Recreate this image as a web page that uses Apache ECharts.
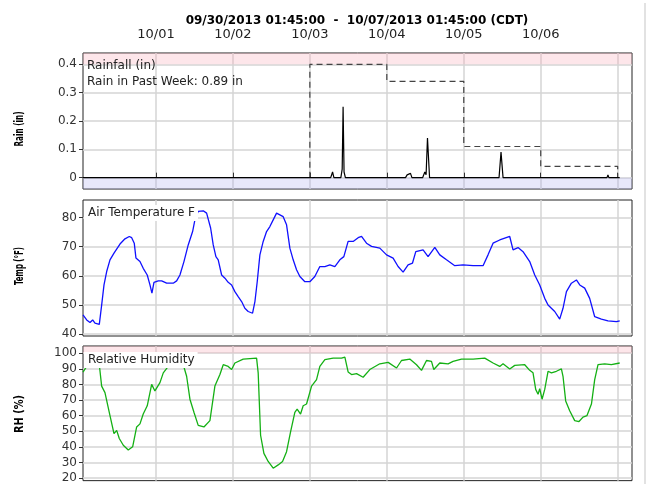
<!DOCTYPE html>
<html><head><meta charset="utf-8">
<script src="https://cdn.jsdelivr.net/npm/echarts@6/dist/echarts.min.js"></script>
<style>html,body{margin:0;padding:0;background:#fff}#c{width:648px;height:484px}</style>
</head><body><div id="c"></div>
<script>
// ---------- data ----------
const titleText = '09/30/2013 01:45:00  -  10/07/2013 01:45:00 (CDT)';
const dayTicks = ['2013-10-01 00:00','2013-10-02 00:00','2013-10-03 00:00','2013-10-04 00:00','2013-10-05 00:00','2013-10-06 00:00','2013-10-07 00:00'];
const dayLabels = ['2013-10-01 00:00','2013-10-02 00:00','2013-10-03 00:00','2013-10-04 00:00','2013-10-05 00:00','2013-10-06 00:00'];
const rainTicks = [0, 0.1, 0.2, 0.3, 0.4];
const tempTicks = [40, 50, 60, 70, 80];
const rhTicks = [20, 30, 40, 50, 60, 70, 80, 90, 100];

const rainTimes = ['2013-09-30 01:15','2013-10-03 06:30','2013-10-03 07:05','2013-10-03 07:30','2013-10-03 09:40','2013-10-03 10:05','2013-10-03 10:22','2013-10-03 10:40','2013-10-03 11:05',
  '2013-10-04 05:50','2013-10-04 06:20','2013-10-04 06:50','2013-10-04 07:23','2013-10-04 07:50','2013-10-04 11:10','2013-10-04 11:51','2013-10-04 12:15','2013-10-04 12:41','2013-10-04 13:20',
  '2013-10-05 11:00','2013-10-05 11:37','2013-10-05 12:15',
  '2013-10-06 17:10','2013-10-06 17:40','2013-10-06 18:10','2013-10-06 20:40','2013-10-06 20:58','2013-10-06 21:15','2013-10-07 00:38'];
const rainValues = [0,0,0.02,0,0,0.03,0.25,0.02,0,
  0,0.01,0.005,0.015,0,0,0.02,0.01,0.14,0,
  0,0.09,0,
  0,0.006,0,0,0.01,0,0];

const dailyTimes = ['2013-10-03 00:00','2013-10-03 00:00','2013-10-04 00:00','2013-10-05 00:00','2013-10-06 00:00','2013-10-07 00:00'];
const dailyTotals = [0, 0.40, 0.34, 0.11, 0.04, 0];

const tempTimes = [
'2013-09-30 01:15','2013-09-30 02:24','2013-09-30 03:26','2013-09-30 04:16','2013-09-30 04:59','2013-09-30 06:20','2013-09-30 07:04','2013-09-30 07:48','2013-09-30 08:38','2013-09-30 09:40','2013-09-30 10:55','2013-09-30 12:47','2013-09-30 14:20','2013-09-30 15:41','2013-09-30 16:26','2013-09-30 17:14','2013-09-30 17:46','2013-09-30 19:01','2013-09-30 20:02','2013-09-30 21:17','2013-09-30 22:08','2013-09-30 22:45','2013-09-30 23:23',
'2013-10-01 00:43','2013-10-01 01:47','2013-10-01 03:20','2013-10-01 05:23','2013-10-01 06:27','2013-10-01 07:29','2013-10-01 08:44','2013-10-01 10:04','2013-10-01 11:26','2013-10-01 12:09','2013-10-01 13:11','2013-10-01 14:45','2013-10-01 15:48','2013-10-01 17:03','2013-10-01 17:52','2013-10-01 18:42','2013-10-01 19:25','2013-10-01 20:29','2013-10-01 21:31','2013-10-01 22:32','2013-10-01 23:36',
'2013-10-02 00:37','2013-10-02 01:39','2013-10-02 02:43','2013-10-02 03:44','2013-10-02 04:46','2013-10-02 06:08','2013-10-02 06:52','2013-10-02 07:35','2013-10-02 08:25','2013-10-02 09:27','2013-10-02 10:30','2013-10-02 11:32','2013-10-02 12:34','2013-10-02 13:37','2013-10-02 14:39','2013-10-02 15:41','2013-10-02 16:44','2013-10-02 17:46','2013-10-02 18:48','2013-10-02 19:51','2013-10-02 20:53','2013-10-02 22:27',
'2013-10-03 00:00','2013-10-03 01:33','2013-10-03 03:07','2013-10-03 04:41','2013-10-03 06:14','2013-10-03 07:48','2013-10-03 09:21','2013-10-03 10:36','2013-10-03 11:56','2013-10-03 13:30','2013-10-03 15:04','2013-10-03 16:07','2013-10-03 17:40','2013-10-03 19:14','2013-10-03 21:49','2013-10-03 23:55',
'2013-10-04 01:58','2013-10-04 03:31','2013-10-04 05:05','2013-10-04 06:38','2013-10-04 08:01','2013-10-04 09:02','2013-10-04 11:19','2013-10-04 12:52','2013-10-04 14:58','2013-10-04 16:31','2013-10-04 18:37','2013-10-04 21:12','2013-10-04 23:47',
'2013-10-05 02:54','2013-10-05 06:01','2013-10-05 07:34','2013-10-05 09:08','2013-10-05 11:13','2013-10-05 12:47','2013-10-05 14:20','2013-10-05 15:22','2013-10-05 16:56','2013-10-05 18:29','2013-10-05 20:34','2013-10-05 22:08','2013-10-05 23:41',
'2013-10-06 01:15','2013-10-06 02:17','2013-10-06 04:22','2013-10-06 05:55','2013-10-06 06:57','2013-10-06 08:01','2013-10-06 09:34','2013-10-06 11:08','2013-10-06 12:10','2013-10-06 13:43','2013-10-06 15:16','2013-10-06 16:50','2013-10-06 18:55','2013-10-06 20:59','2013-10-06 23:36',
'2013-10-07 00:38'];
const tempValues = [
46.6,44.9,44.0,44.9,43.8,43.4,50.0,56.9,61.5,65.5,67.8,70.9,72.7,73.5,73.1,71.2,66.1,64.9,62.6,60.3,56.9,54.1,57.8,
58.3,58.3,57.5,57.5,58.3,60.3,64.9,70.6,75.2,79.2,82.1,82.3,81.5,76.4,70.6,66.6,65.5,60.3,59.2,57.8,56.9,
54.6,52.9,51.2,48.9,47.8,47.2,51.2,58.0,67.2,71.8,75.2,76.9,79.2,81.5,80.9,80.3,77.5,69.5,65.5,62.1,59.8,58.0,
58.0,59.8,63.2,63.2,63.8,63.2,65.5,66.6,71.8,71.8,73.1,73.5,71.2,70.1,69.5,67.2,
66.1,63.2,61.3,63.8,64.4,68.3,68.9,66.6,69.8,67.2,65.5,63.5,63.8,
63.5,63.5,67.2,71.2,72.3,72.9,73.5,68.9,69.7,68.3,64.9,60.3,56.9,
52.3,50.0,47.8,45.2,48.9,54.6,57.5,58.6,56.9,55.8,52.3,46.0,45.2,44.6,44.3,
44.6];

const rhTimes = [
'2013-09-30 01:15','2013-09-30 02:24','2013-09-30 04:28','2013-09-30 06:20','2013-09-30 07:04','2013-09-30 08:06','2013-09-30 09:40','2013-09-30 10:55','2013-09-30 11:45','2013-09-30 12:34','2013-09-30 13:49','2013-09-30 15:22','2013-09-30 16:44','2013-09-30 17:59','2013-09-30 19:01','2013-09-30 20:02','2013-09-30 21:17','2013-09-30 22:40','2013-09-30 23:41',
'2013-10-01 01:15','2013-10-01 02:17','2013-10-01 03:50','2013-10-01 06:27','2013-10-01 08:31','2013-10-01 09:34','2013-10-01 10:36','2013-10-01 11:51','2013-10-01 13:11','2013-10-01 14:58','2013-10-01 16:50','2013-10-01 18:23','2013-10-01 19:57','2013-10-01 20:59','2013-10-01 22:32','2013-10-01 23:36',
'2013-10-02 00:37','2013-10-02 03:13','2013-10-02 07:23','2013-10-02 07:53','2013-10-02 08:38','2013-10-02 09:40','2013-10-02 11:00','2013-10-02 12:34','2013-10-02 14:07','2013-10-02 15:29','2013-10-02 16:44','2013-10-02 17:59','2013-10-02 19:19','2013-10-02 20:02','2013-10-02 21:06','2013-10-02 21:55','2013-10-02 22:58',
'2013-10-03 00:32','2013-10-03 02:05','2013-10-03 03:07','2013-10-03 04:41','2013-10-03 07:16','2013-10-03 09:53','2013-10-03 10:55','2013-10-03 11:56','2013-10-03 13:00','2013-10-03 14:34','2013-10-03 16:37','2013-10-03 18:42','2013-10-03 21:49',
'2013-10-04 00:25','2013-10-04 03:02','2013-10-04 04:35','2013-10-04 07:10','2013-10-04 09:16','2013-10-04 10:49','2013-10-04 12:23','2013-10-04 13:56','2013-10-04 14:39','2013-10-04 16:31','2013-10-04 19:07','2013-10-04 20:40','2013-10-04 23:17',
'2013-10-05 02:54','2013-10-05 06:33','2013-10-05 09:08','2013-10-05 11:13','2013-10-05 12:15','2013-10-05 14:20','2013-10-05 15:54','2013-10-05 19:01','2013-10-05 20:34','2013-10-05 21:36','2013-10-05 22:26','2013-10-05 23:10','2013-10-05 23:41',
'2013-10-06 00:25','2013-10-06 01:15','2013-10-06 02:17','2013-10-06 03:20','2013-10-06 04:53','2013-10-06 06:27','2013-10-06 06:57','2013-10-06 07:47','2013-10-06 09:02','2013-10-06 10:36','2013-10-06 11:56','2013-10-06 13:11','2013-10-06 14:26','2013-10-06 15:49','2013-10-06 16:50','2013-10-06 17:52','2013-10-06 19:57','2013-10-06 22:02',
'2013-10-07 00:38'];
const rhValues = [
87.8,91.5,92.6,92.6,78.9,74.7,60.0,48.4,50.5,45.3,41.0,37.9,40.0,52.7,54.7,61.0,66.3,80.0,75.8,
81.1,87.4,91.5,93.7,92.6,85.2,70.5,62.1,53.7,52.7,56.8,78.9,86.3,92.6,91.5,89.5,
93.7,96.2,96.8,87.4,47.4,35.8,30.6,26.3,28.4,30.6,36.9,49.5,62.1,64.2,61.0,66.3,67.4,
78.9,83.1,91.5,95.8,96.8,96.8,97.5,88.0,86.3,86.9,84.6,89.5,93.2,
94.1,90.5,95.3,96.2,92.6,89.0,95.3,94.7,89.5,93.7,93.2,94.7,96.2,
96.2,96.8,93.7,91.5,93.2,89.9,92.2,92.6,89.0,87.4,76.8,73.7,77.3,
70.5,76.8,88.4,87.4,88.4,89.9,85.2,69.4,63.1,56.8,56.2,59.0,60.0,67.4,83.1,92.6,93.2,92.6,
93.7];

// ---------- helpers ----------
function ts(s){ const p=s.split(' '); const d=p[0].split('-').map(Number); const t=p[1].split(':').map(Number); return new Date(d[0],d[1]-1,d[2],t[0],t[1]).getTime(); }
function zip(times, vals){ return times.map((t,i)=>[ts(t), vals[i]]); }
const pad = n => (n<10?'0':'')+n;
const XMIN = ts('2013-09-30 01:15'), XMAX = ts('2013-10-07 04:28');
const FONT = 'DejaVu Sans';

const GL = 83, GW = 549;
const grids = [
  {left:GL, top:53, width:GW, height:136},
  {left:GL, top:200, width:GW, height:136},
  {left:GL, top:346, width:GW, height:137}
].map(g => Object.assign(g, {show:true, borderColor:'#222', borderWidth:1, backgroundColor:'#fff'}));

function xAx(i){
  return {type:'value', gridIndex:i, min:XMIN, max:XMAX, position:'top', offset:5,
    axisLine:{show:false},
    axisTick:{show:i===0, customValues:dayTicks.map(ts), length:5, lineStyle:{color:'#333', width:1}},
    axisLabel:{show:i===0, customValues:dayLabels.map(ts), fontSize:13, fontFamily:FONT, color:'#222', margin:7,
      formatter:v=>{const d=new Date(v); return pad(d.getMonth()+1)+'/'+pad(d.getDate());}},
    splitLine:{show:true, lineStyle:{color:'#d4d4d4', width:1.5}}
  };
}
function yAx(i, min, max, ticks){
  return {type:'value', gridIndex:i, min:min, max:max,
    axisLine:{show:false},
    axisTick:{show:true, customValues:ticks, length:4, lineStyle:{color:'#333'}},
    axisLabel:{customValues:ticks, fontSize:12, fontFamily:FONT, color:'#333', margin:6, formatter:v=>String(v)},
    splitLine:{show:true, lineStyle:{color:'#d4d4d4', width:1.5}}
  };
}

// measure for condensed axis names
const ctx = document.createElement('canvas').getContext('2d');
const nameFont = 'bold 12px "DejaVu Sans"';
ctx.font = nameFont;
function axName(text, cx, cy, len){
  const w = ctx.measureText(text).width;
  return {type:'text', x:cx, y:cy, rotation:Math.PI/2, scaleX:len/w, z:100,
    style:{text:text, x:0, y:0, align:'center', verticalAlign:'middle', font:nameFont, fill:'#000'}};
}
function panelLabel(text, x, y, bg){
  return {type:'text', x:x, y:y, z:100,
    style:{text:text, align:'left', verticalAlign:'middle', font:'12px "DejaVu Sans"', fill:'#222',
      backgroundColor:bg||'transparent', padding:bg?[2,3,2,4]:0}};
}

const pinkArea = 'rgba(248,172,185,0.3)';
const blueArea = 'rgba(178,178,238,0.3)';

const option = {
  animation:false,
  backgroundColor:'#fff',
  grid: grids,
  xAxis: [xAx(0), xAx(1), xAx(2)],
  yAxis: [yAx(0,-0.04,0.44,rainTicks), yAx(1,39.4,86,tempTicks), yAx(2,18.3,104.6,rhTicks)],
  series: [
    {type:'line', xAxisIndex:0, yAxisIndex:0, data:zip(rainTimes, rainValues), showSymbol:false,
      lineStyle:{color:'#000', width:1.2}, z:3,
      markArea:{silent:true, itemStyle:{color:pinkArea}, data:[
        [{yAxis:0.4, itemStyle:{color:pinkArea}},{yAxis:0.44}],
        [{yAxis:-0.04, itemStyle:{color:blueArea}},{yAxis:0}]
      ]}},
    {type:'line', xAxisIndex:0, yAxisIndex:0, data:zip(dailyTimes, dailyTotals), step:'end', showSymbol:false,
      lineStyle:{color:'#444', width:1.2, type:[6,4]}, z:2},
    {type:'line', xAxisIndex:1, yAxisIndex:1, data:zip(tempTimes, tempValues), showSymbol:false,
      lineStyle:{color:'#1010ff', width:1.3}},
    {type:'line', xAxisIndex:2, yAxisIndex:2, data:zip(rhTimes, rhValues), showSymbol:false,
      lineStyle:{color:'#14b014', width:1.3},
      markArea:{silent:true, itemStyle:{color:pinkArea}, data:[[{yAxis:100},{yAxis:104.6}]]}}
  ],
  graphic: [
    {type:'text', x:357, y:21, z:100, style:{text:titleText, align:'center', verticalAlign:'middle', font:'bold 12px "DejaVu Sans"', fill:'#000'}},
    panelLabel('Rainfall (in)', 87, 66),
    panelLabel('Rain in Past Week: 0.89 in', 87, 82),
    panelLabel('Air Temperature F', 84, 213, '#fff'),
    panelLabel('Relative Humidity', 84, 360, '#fff'),
    axName('Rain (in)', 20, 129, 35),
    axName('Temp (°F)', 20, 266, 38),
    axName('RH (%)', 20, 414, 38),
    {type:'rect', shape:{x:644, y:3, width:2, height:481}, style:{fill:'#e2e2e2'}, z:100}
  ]
};
const chart = echarts.init(document.getElementById('c'), null, {renderer:'canvas'});
chart.setOption(option);
</script></body></html>
